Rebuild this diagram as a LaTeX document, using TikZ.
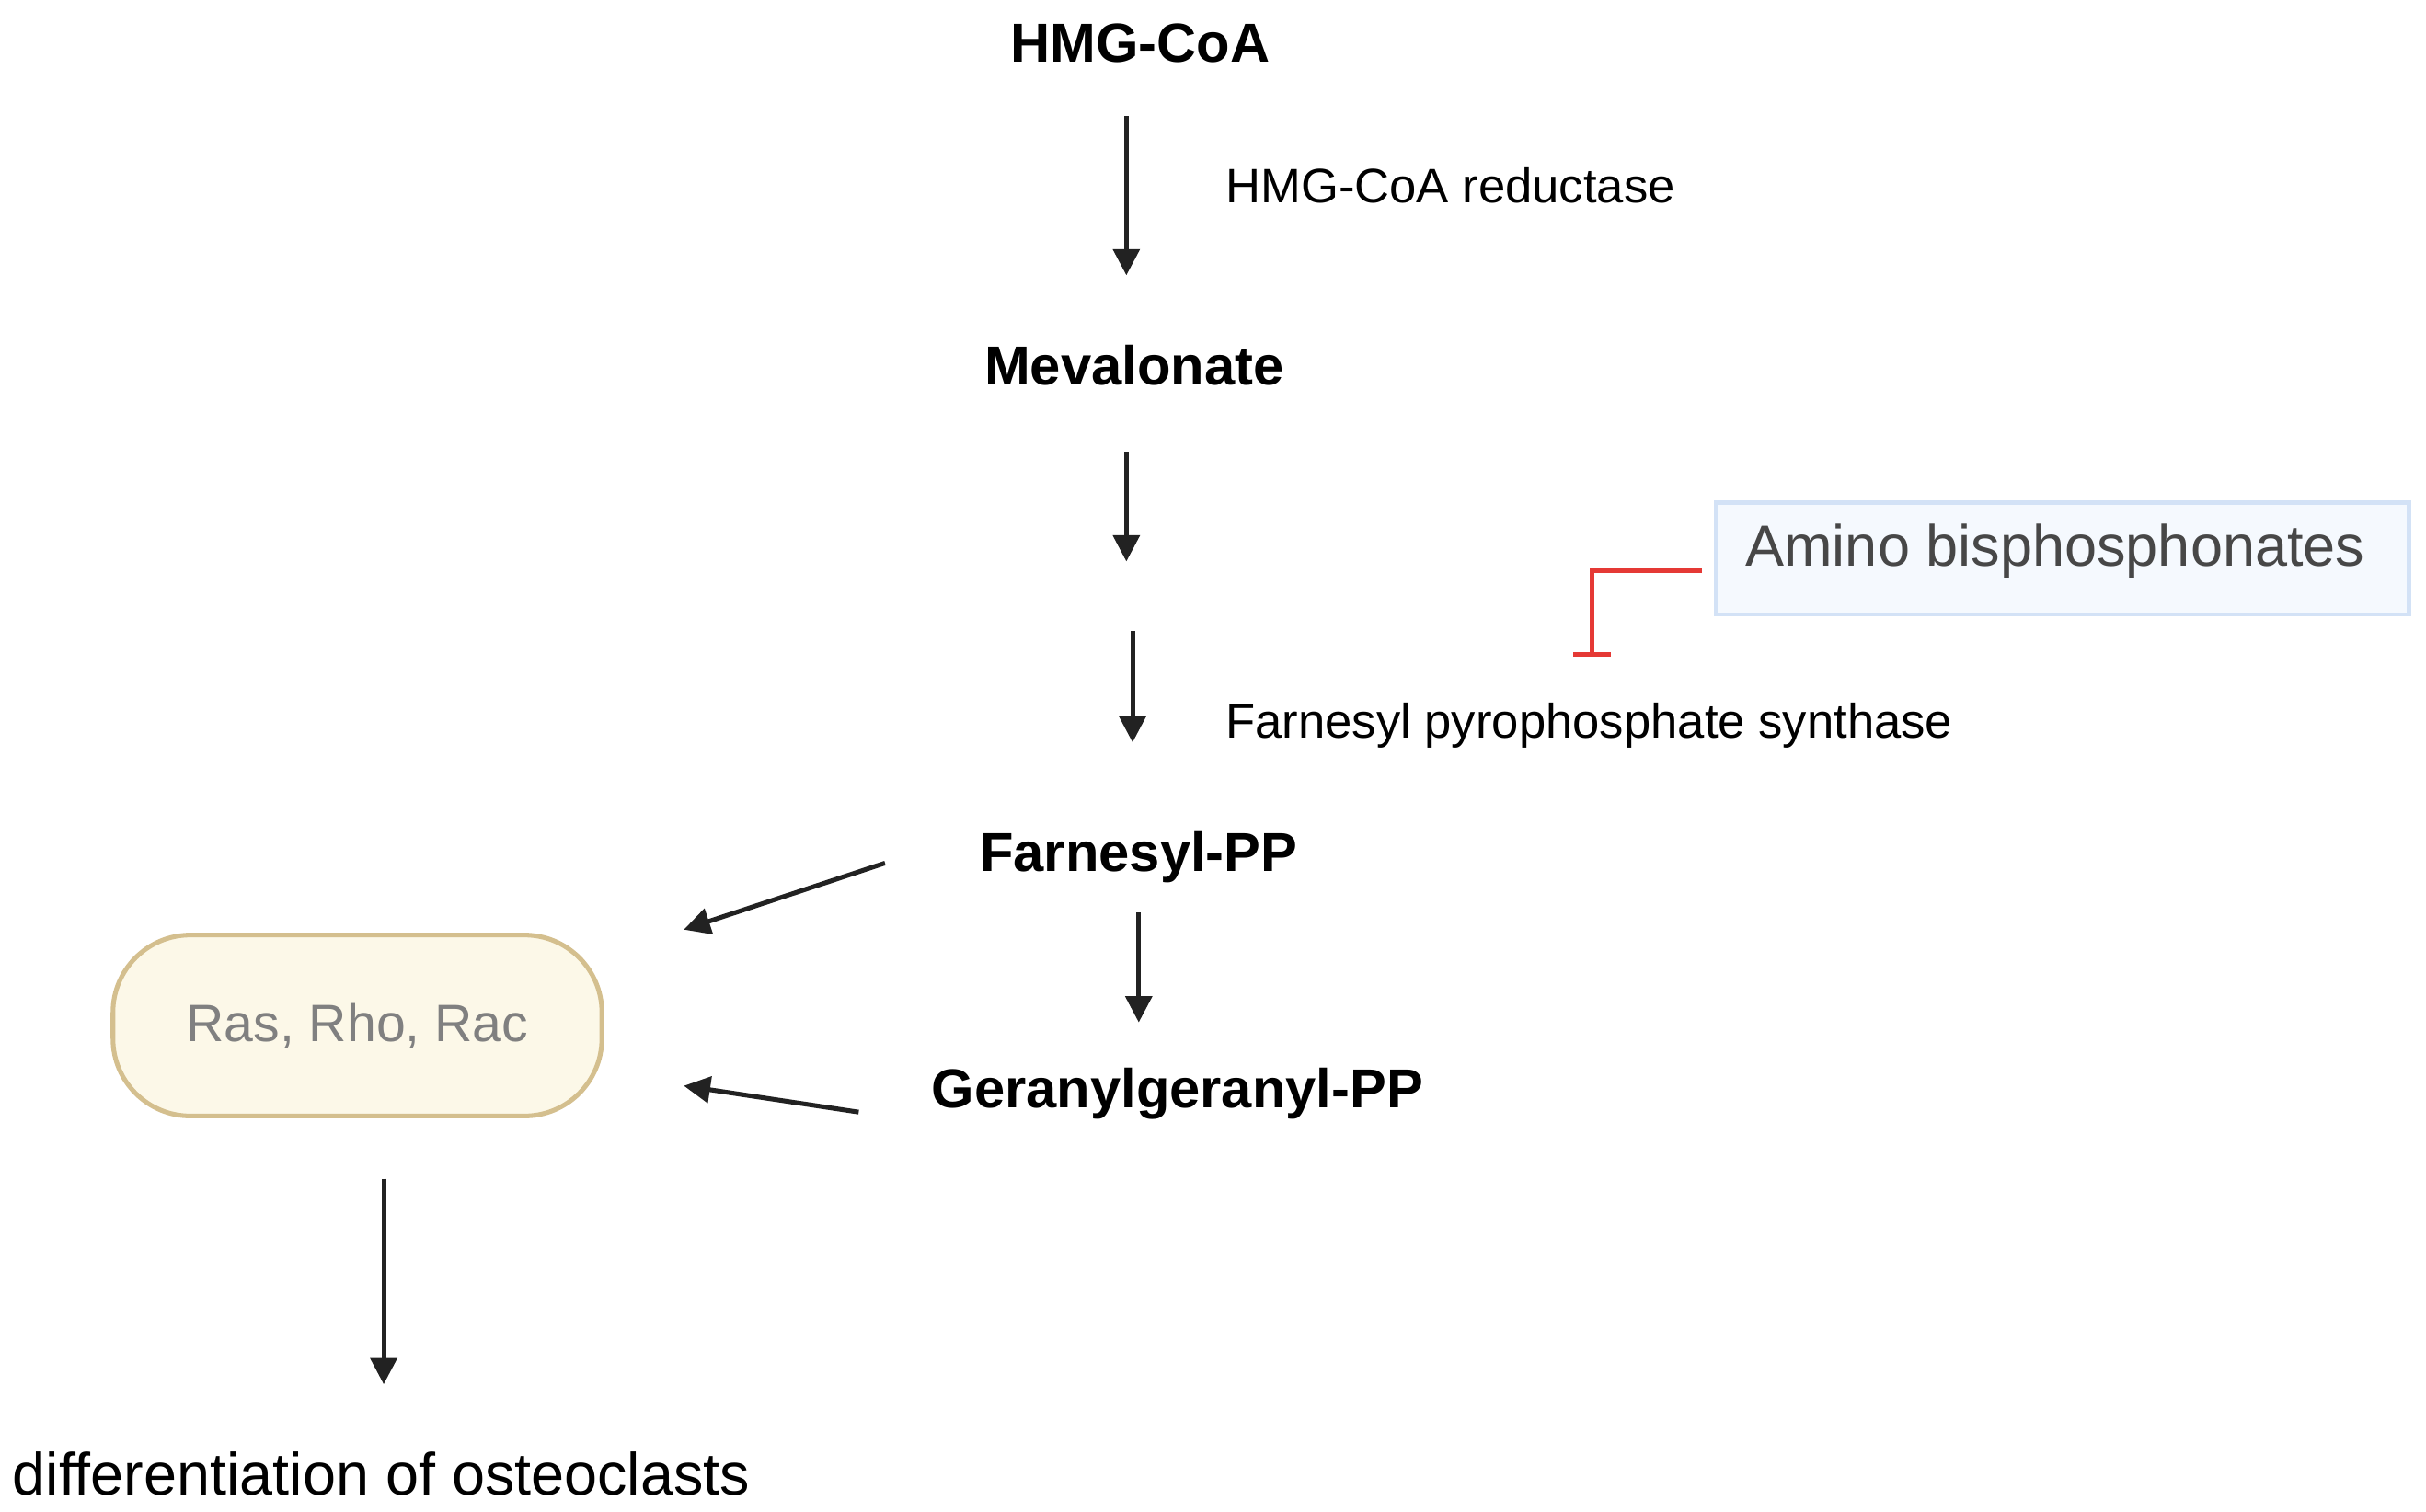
\documentclass[tikz,border=0pt]{standalone}
\usepackage{fontspec}
\setmainfont{Liberation Sans}
\usetikzlibrary{arrows.meta}
\definecolor{arr}{HTML}{222222}
\definecolor{inh}{HTML}{E53935}
\definecolor{abfill}{HTML}{F5F9FE}
\definecolor{abdraw}{HTML}{D3E2F6}
\begin{document}
\begin{tikzpicture}[x=1pt,y=-1pt,
  main/.style={font=\fontsize{35.5}{40}\selectfont\bfseries, inner sep=0pt},
  enz/.style={font=\fontsize{31.3}{36}\selectfont, inner sep=0pt, anchor=west},
  flow/.style={draw=arr, line width=3pt, -{Triangle[length=17pt,width=17pt]}}]
\useasboundingbox (0,0) rectangle (1568,977);
\node[main] (hmg) at (737,28) {HMG-CoA};
\node[enz] (red) at (792,120) {HMG-CoA reductase};
\node[main] (mev) at (733,236) {Mevalonate};
\node[enz] (fps) at (792,469) {Farnesyl pyrophosphate synthase};
\node[main] (fpp) at (736,554) {Farnesyl-PP};
\node[main] (ggpp) at (761,707) {Geranylgeranyl-PP};
\node[draw=abdraw, line width=2.5pt, fill=abfill, minimum width=448pt, minimum height=72pt] (ab) at (1333,361) {};
\node[text=black!72, font=\fontsize{37.5}{42}\selectfont, inner sep=0pt, anchor=west] (abt) at (1128,356) {Amino bisphosphonates};
\node[draw={rgb,255:red,212;green,191;blue,142}, line width=3pt, fill={rgb,255:red,252;green,248;blue,232},
  rounded corners=50pt, minimum width=316pt, minimum height=117pt, text=black!50,
  font=\fontsize{34}{38}\selectfont] (ras) at (231,663) {Ras, Rho, Rac};
\node[font=\fontsize{38.5}{42}\selectfont, inner sep=0pt, anchor=west] (diff) at (8,953) {differentiation of osteoclasts};
\coordinate (a1) at (728,75); \coordinate (a1e) at (728,178);
\coordinate (a2) at (728,292); \coordinate (a2e) at (728,363);
\coordinate (a3) at (732,408); \coordinate (a3e) at (732,480);
\coordinate (a4) at (736,590); \coordinate (a4e) at (736,661);
\coordinate (a5) at (572,558); \coordinate (a5e) at (442,601);
\coordinate (a6) at (555,719); \coordinate (a6e) at (442,702);
\coordinate (a7) at (248,762); \coordinate (a7e) at (248,895);
\foreach \s/\e in {a1/a1e,a2/a2e,a3/a3e,a4/a4e,a5/a5e,a6/a6e,a7/a7e}
  \draw[flow] (\s) -- (\e);
\coordinate (i1) at (1100,369); \coordinate (i2) at (1029,423);
\draw[inh, line width=3pt] (i1) -| (i2);
\draw[inh, line width=3pt] (1017,423) -- (1041,423);
\end{tikzpicture}
\end{document}
